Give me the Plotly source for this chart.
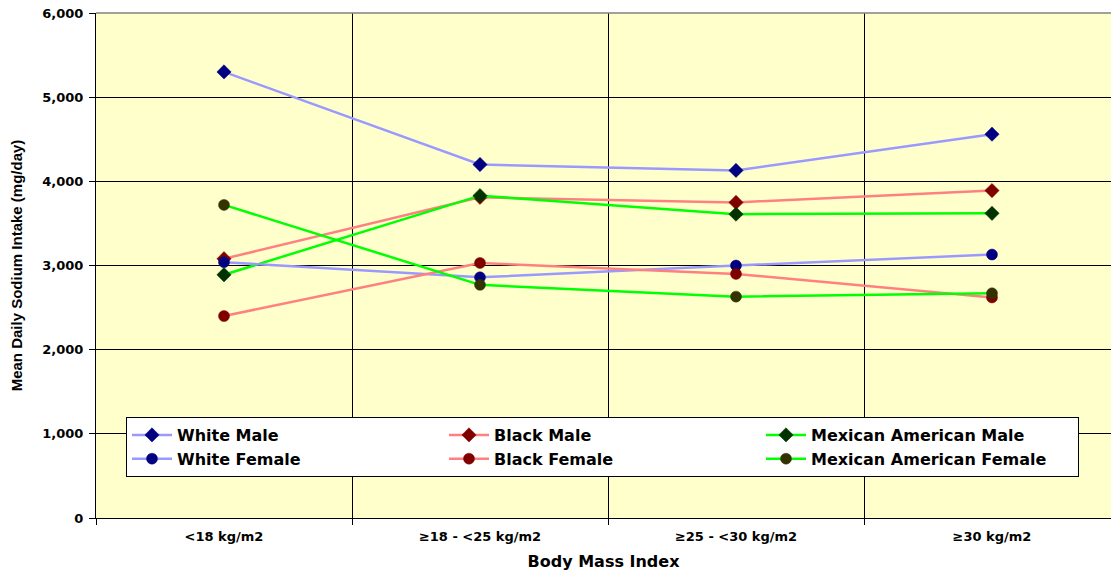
import plotly.graph_objects as go

# Body mass index groups
categories = ["<18 kg/m2", "≥18 - <25 kg/m2", "≥25 - <30 kg/m2", "≥30 kg/m2"]

# Mean daily sodium intake (mg/day) by group
white_male = [5300, 4200, 4130, 4560]
black_male = [3080, 3810, 3750, 3890]
mexican_male = [2890, 3830, 3610, 3620]
white_female = [3040, 2860, 3000, 3130]
black_female = [2400, 3030, 2900, 2620]
mexican_female = [3720, 2770, 2630, 2670]

series = [
    ("White Male", white_male, "#9999FF", "#000080", "diamond", 11),
    ("Black Male", black_male, "#FF8080", "#800000", "diamond", 11),
    ("Mexican American Male", mexican_male, "#00FF00", "#003300", "diamond", 11),
    ("White Female", white_female, "#9999FF", "#000080", "circle", 11),
    ("Black Female", black_female, "#FF8080", "#800000", "circle", 11),
    ("Mexican American Female", mexican_female, "#00FF00", "#333300", "circle", 11),
]

fig = go.Figure()
for name, vals, line_col, mk_col, sym, size in series:
    fig.add_trace(go.Scatter(
        x=categories, y=vals, name=name, mode="lines+markers",
        line=dict(color=line_col, width=2.5),
        marker=dict(symbol=sym, size=size, color=mk_col,
                    line=dict(color=mk_col, width=0.5)),
    ))

W, H = 1111, 571
ml, mr, mt, mb = 96, 0, 13, 53
pw, ph = W - ml - mr, H - mt - mb
cat_px = 256.0

fig.update_layout(
    width=W, height=H,
    margin=dict(l=ml, r=mr, t=mt, b=mb, pad=0),
    paper_bgcolor="white",
    plot_bgcolor="#FFFFCC",
    font=dict(family="DejaVu Sans", color="black"),
    showlegend=True,
    legend=dict(
        orientation="h",
        x=(126 - ml) / pw, xanchor="left",
        y=(mt + ph - 417) / ph, yanchor="top",
        bgcolor="white", bordercolor="black", borderwidth=1,
        font=dict(family="DejaVu Sans", size=16, color="black", weight="bold"),
        entrywidth=262, entrywidthmode="pixels",
        itemwidth=40,
        tracegroupgap=0,
    ),
    xaxis=dict(
        type="category",
        range=[-0.5, -0.5 + pw / cat_px],
        tickson="boundaries",
        showgrid=True, gridcolor="black", gridwidth=1,
        showline=True, linecolor="black", linewidth=1,
        ticks="outside", ticklen=6, tickcolor="black",
        ticklabelstandoff=6,
        tickfont=dict(family="DejaVu Sans", size=13, weight="bold"),
        title=dict(text="Body Mass Index", standoff=16,
                   font=dict(family="DejaVu Sans", size=16, weight="bold")),
        fixedrange=True,
    ),
    yaxis=dict(
        range=[0, 6000],
        tickvals=[0, 1000, 2000, 3000, 4000, 5000, 6000],
        tickformat=",d",
        showgrid=True, gridcolor="black", gridwidth=1,
        zeroline=False,
        showline=True, linecolor="black", linewidth=1,
        ticks="outside", ticklen=6, tickcolor="black",
        ticklabelstandoff=3,
        tickfont=dict(family="DejaVu Sans", size=13, weight="bold"),
        title=dict(text="Mean Daily Sodium Intake (mg/day)", standoff=16,
                   font=dict(family="Liberation Sans", size=15, weight="bold")),
        fixedrange=True,
    ),
    shapes=[dict(type="line", xref="paper", yref="paper", x0=0, x1=1, y0=1, y1=1,
                 line=dict(color="#808080", width=1.5), layer="above")],
)

fig.write_html("out.html")
